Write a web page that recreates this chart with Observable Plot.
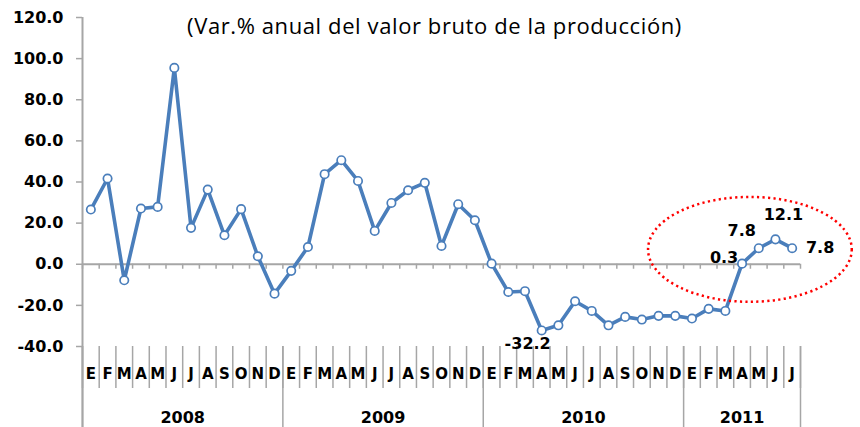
<!DOCTYPE html>
<html><head><meta charset="utf-8">
<script src="https://cdn.jsdelivr.net/npm/d3@7"></script>
<script src="https://cdn.jsdelivr.net/npm/@observablehq/plot@0.6"></script>
<style>body{margin:0;background:#fff;overflow:hidden}</style>
</head><body><div id="chart"></div>
<script>
// ---- data ----
const subtitle = "(Var.% anual del valor bruto de la producción)";
const years = [2008, 2009, 2010, 2011];
const monthLetters = ["E","F","M","A","M","J","J","A","S","O","N","D"];
const values2008 = [26.6, 41.7, -7.8, 27.1, 27.9, 95.5, 17.7, 36.3, 14.1, 26.8, 3.9, -14.3];
const values2009 = [-3.2, 8.4, 43.8, 50.6, 40.5, 16.2, 29.8, 36.0, 39.6, 8.9, 29.2, 21.4];
const values2010 = [0.3, -13.5, -13.1, -32.2, -29.7, -18.0, -22.7, -29.7, -25.6, -26.9, -25.1, -25.1];
const values2011 = [-26.4, -21.7, -22.7, 0.3, 7.8, 12.1, 7.8];
const yTicks = [-40, -20, 0, 20, 40, 60, 80, 100, 120];
// labelled points: [year, month index, text]
const labelYears = [2010, 2011, 2011, 2011, 2011];
const labelMonths = [3, 3, 4, 5, 6];
const labelTexts = ["-32.2", "0.3", "7.8", "12.1", "7.8"];

// ---- build table ----
const series = [values2008, values2009, values2010, values2011];
const rows = [];
series.forEach((vals, yi) => vals.forEach((v, m) => rows.push({i: rows.length, year: years[yi], month: m, letter: monthLetters[m], value: v})));
const n = rows.length;
const boundaries = d3.range(n + 1).map(k => k - 0.5);
const yearBounds = [];
const yearCenters = [];
series.forEach((vals, yi) => {
  const start = rows.findIndex(r => r.year === years[yi]);
  yearBounds.push(start - 0.5);
  yearCenters.push({year: String(years[yi]), x: start + (vals.length - 1) / 2});
});
yearBounds.push(n - 0.5);
const labels = labelTexts.map((t, k) => {
  const r = rows.find(r => r.year === labelYears[k] && r.month === labelMonths[k]);
  return {i: r.i, value: r.value, text: t};
});

// ---- styles / annotation placement ----
const blue = "#4a7ebb";
const gray = "#a6a6a6";
const bold = {fontFamily: "DejaVu Sans", fontWeight: "bold", fill: "black"};
const labelOffsets = [[-14, 13], [-18, -6], [-17, -17], [8, -24], [28, 0]];
const ellipseSpec = {cx: 39.5, cy: 7, rx: 6.1, ry: 25.5};

const ellipseMark = (index, scales) => {
  const {x, y} = scales;
  const cx = x(ellipseSpec.cx), cy = y(ellipseSpec.cy);
  const rx = x(ellipseSpec.cx + ellipseSpec.rx) - cx;
  const ry = cy - y(ellipseSpec.cy + ellipseSpec.ry);
  return d3.create("svg:ellipse")
    .attr("cx", cx).attr("cy", cy).attr("rx", rx).attr("ry", ry)
    .attr("fill", "none").attr("stroke", "#ff0000").attr("stroke-width", 2.5)
    .attr("stroke-dasharray", "2.2,3.3").node();
};

const marks = [
  // zero line and its ticks
  Plot.ruleY([0], {x1: -0.5, x2: n - 0.5, stroke: gray, strokeWidth: 2}),
  Plot.ruleX(boundaries, {x: d => d, y1: 0, y2: 0, insetBottom: -5, stroke: gray, strokeWidth: 1.5}),
  // category separators below the frame
  Plot.ruleX(boundaries, {x: d => d, y1: -40, y2: -40, insetBottom: -42, stroke: gray, strokeWidth: 1.5}),
  Plot.ruleX(yearBounds, {x: d => d, y1: -40, y2: -40, insetBottom: -81, stroke: gray, strokeWidth: 1.5}),
  // y axis line
  Plot.ruleX([-0.5], {y1: 120, y2: -40, insetBottom: -81, stroke: gray, strokeWidth: 2}),
  Plot.axisY(yTicks, {label: null, tickSize: 6, tickPadding: 13, stroke: gray, strokeWidth: 1.5, tickFormat: d => d.toFixed(1), fontSize: 16, ...bold}),
  // month + year labels
  Plot.text(rows, {x: "i", y: () => -40, text: "letter", dy: 28, fontSize: 15, ...bold}),
  Plot.text(yearCenters, {x: "x", y: () => -40, text: "year", dy: 71, fontSize: 16, ...bold}),
  // series
  Plot.line(rows, {x: "i", y: "value", stroke: blue, strokeWidth: 3.6}),
  Plot.dot(rows, {x: "i", y: "value", r: 4.2, fill: "white", stroke: blue, strokeWidth: 1.7}),
  ellipseMark,
  Plot.text([subtitle], {frameAnchor: "top", text: d => d, dx: -7, dy: 9, lineAnchor: "middle", fontSize: 22, fontFamily: "Open Sans", fill: "black", style: {letterSpacing: "0.6px"}})
];
labels.forEach((l, k) => {
  marks.push(Plot.text([l], {x: "i", y: "value", text: "text", dx: labelOffsets[k][0], dy: labelOffsets[k][1], fontSize: 16, ...bold}));
});

const chart = Plot.plot({
  width: 860,
  height: 427,
  marginLeft: 82,
  marginRight: 60,
  marginTop: 17,
  marginBottom: 81,
  x: {domain: [-0.5, n - 0.5], axis: null},
  y: {domain: [-40, 120], axis: null},
  style: {background: "white", overflow: "visible"},
  marks
});
chart.querySelectorAll("text").forEach(t => { if (t.textContent === subtitle) t.style.letterSpacing = "0.6px"; });
document.getElementById("chart").append(chart);
</script>
</body></html>
